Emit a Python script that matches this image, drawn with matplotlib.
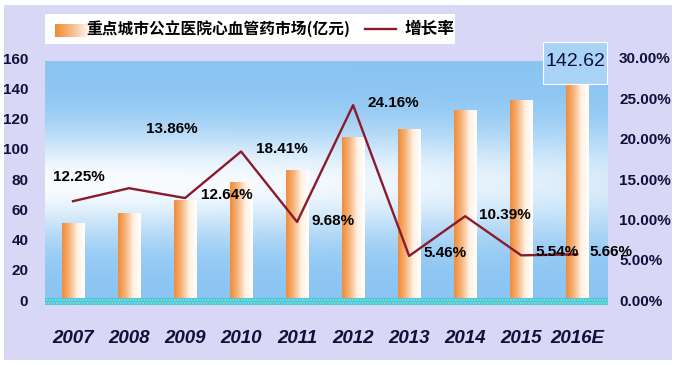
import numpy as np
import matplotlib
matplotlib.use('Agg')
import matplotlib.pyplot as plt
from matplotlib.colors import LinearSegmentedColormap
from matplotlib.patches import Rectangle
from matplotlib.lines import Line2D

plt.rcParams['font.family'] = ['Liberation Sans', 'Noto Sans CJK SC', 'DejaVu Sans']

# data
years = ['2007', '2008', '2009', '2010', '2011', '2012', '2013', '2014', '2015', '2016E']
market = [51.0, 57.7, 66.0, 78.0, 86.0, 108.0, 112.8, 125.6, 132.0, 142.62]
growth = [12.25, 13.86, 12.64, 18.41, 9.68, 24.16, 5.46, 10.39, 5.54, 5.66]
growth_labels = ['12.25%', '13.86%', '12.64%', '18.41%', '9.68%',
                 '24.16%', '5.46%', '10.39%', '5.54%', '5.66%']
bar_name = '重点城市公立医院心血管药市场(亿元)'
line_name = '增长率'

# label offsets in pixels (x, y) from each line point
label_off = [(6, 24), (43, 59), (42, 3), (41, 2), (36, 1),
             (40, 2), (36, 3), (40, 1), (36, 3), (34, 2)]

navy = '#10103c'
line_col = '#8b1a2b'

W, H = 678, 365
fig = plt.figure(figsize=(W / 100, H / 100), dpi=100)
fig.patch.set_facecolor('white')
fig.patches.append(Rectangle((4 / W, 5 / H), 668 / W, 355 / H, transform=fig.transFigure,
                             facecolor='#d8d8f6', edgecolor='none', zorder=-5))

ax = fig.add_axes([45 / W, 60 / H, 563 / W, 247 / H])
ax.set_facecolor('none')
for s in ax.spines.values():
    s.set_visible(False)

x = np.arange(len(years))
xlim = (-0.5, len(years) - 0.45)
ylim = (-3.3, 160)

# background gradient of plot area
t = np.linspace(0, 1, 200)[:, None]
u = np.linspace(0, 1, 200)[None, :]
blue = np.array([0.54, 0.77, 0.95])
white = np.array([0.98, 0.99, 1.0])
w = np.exp(-((t - 0.5) / 0.22) ** 2) * (1 - 0.3 * u ** 2)
bg = blue[None, None, :] * (1 - w[..., None]) + white[None, None, :] * w[..., None]
ax.imshow(bg, extent=(xlim[0], xlim[1], ylim[0], 157.5), aspect='auto', zorder=0,
          origin='upper')

# bars with horizontal orange-to-white gradient
bar_cmap = LinearSegmentedColormap.from_list('bar', ['#f08c3c', '#f6b47c', '#fff0e2', '#ffffff'])
bars = ax.bar(x, market, width=0.41, color='none', edgecolor='none', zorder=2)
grad = np.linspace(0, 1, 64)[None, :]
for b in bars:
    x0 = b.get_x()
    im = ax.imshow(grad, extent=(x0, x0 + b.get_width(), 0, b.get_height()),
                   aspect='auto', cmap=bar_cmap, zorder=2)
    im.set_clip_path(b)

# floor stripe
ax.axhspan(ylim[0], 1.3, facecolor='#45c6cf', edgecolor='#8ae3e8', hatch='......',
           linewidth=0, zorder=3)

ax.set_xlim(*xlim)
ax.set_ylim(*ylim)
ax.set_yticks(np.arange(0, 161, 20))
ax.set_yticklabels([str(v) for v in range(0, 161, 20)])
ax.set_xticks(x)
ax.set_xticklabels(years)
ax.tick_params(axis='y', length=0, pad=12, labelsize=11, labelcolor=navy)
ax.tick_params(axis='x', length=0, pad=18, labelsize=13.5, labelcolor=navy)
for lab in ax.get_yticklabels():
    lab.set_fontweight('bold')
for lab in ax.get_xticklabels():
    lab.set_fontweight('bold')
    lab.set_fontstyle('italic')

# growth line on the right axis
ax2 = ax.twinx()
for s in ax2.spines.values():
    s.set_visible(False)
ax2.set_ylim(ylim[0] * 30 / 160, 30)
ax2.plot(x, growth, color=line_col, lw=1.7, zorder=5)
ax2.set_yticks(np.arange(0, 31, 5))
ax2.set_yticklabels(['%.2f%%' % v for v in range(0, 31, 5)])
ax2.tick_params(axis='y', length=0, pad=8, labelsize=11, labelcolor=navy)
for lab in ax2.get_yticklabels():
    lab.set_fontweight('bold')

for xi, gi, txt, off in zip(x, growth, growth_labels, label_off):
    ax2.annotate(txt, (xi, gi), xytext=off, textcoords='offset pixels',
                 ha='center', va='center', fontsize=11, fontweight='bold',
                 color='black', zorder=6)

# value box for the last bar
fig.patches.append(Rectangle((543 / W, (H - 84) / H), 64 / W, 42 / H, transform=fig.transFigure,
                             facecolor='#a9d3f5', edgecolor='white', lw=0.8, zorder=5))
fig.text(575 / W, 1 - 62 / H, '142.62', ha='center', va='center', fontsize=14,
         color=navy, zorder=6)

# legend
fig.patches.append(Rectangle((45 / W, (H - 44) / H), 410 / W, 30 / H, transform=fig.transFigure,
                             facecolor='white', edgecolor='none', zorder=4))
leg_cmap = LinearSegmentedColormap.from_list('leg', ['#f08a30', '#f8c090', '#ffffff'])
lax = fig.add_axes([55 / W, (H - 37) / H, 35 / W, 13 / H], zorder=5)
lax.imshow(grad, aspect='auto', cmap=leg_cmap)
lax.axis('off')
fig.text(86 / W, 1 - 29 / H, bar_name, ha='left', va='center', fontsize=11.3,
         fontweight='bold', color='black', family=['Noto Sans CJK SC', 'DejaVu Sans'], zorder=6)
fig.lines.append(Line2D([365 / W, 396 / W], [1 - 29 / H, 1 - 29 / H], transform=fig.transFigure,
                        color=line_col, lw=1.7, zorder=6))
fig.text(405 / W, 1 - 29 / H, line_name, ha='left', va='center', fontsize=12,
         fontweight='bold', color='black', family=['Noto Sans CJK SC', 'DejaVu Sans'], zorder=6)

fig.savefig('out.png', dpi=100, facecolor=fig.get_facecolor())
